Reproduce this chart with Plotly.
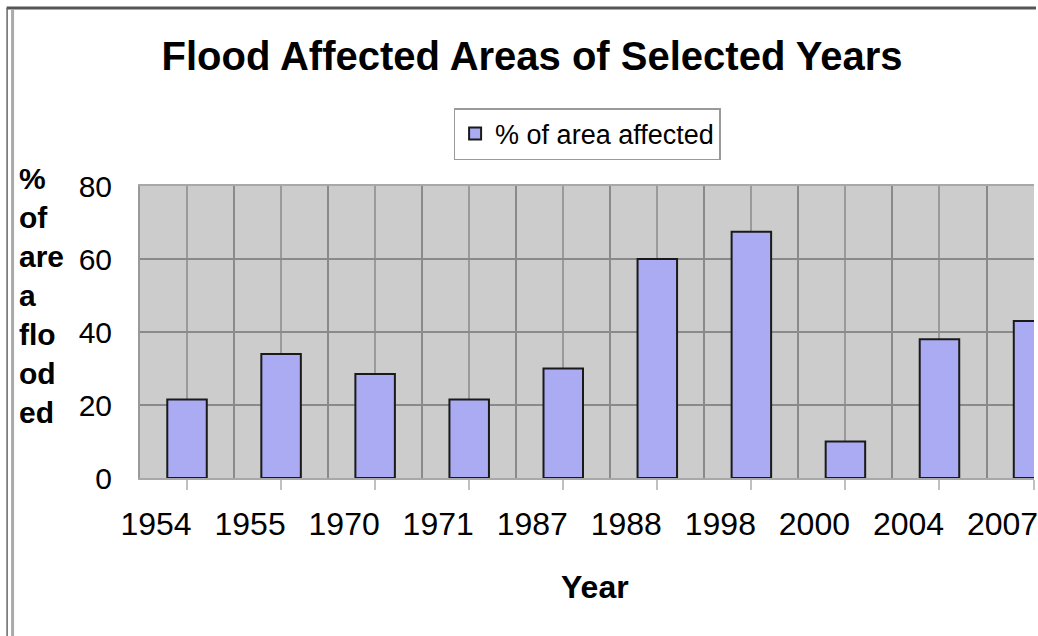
import plotly.graph_objects as go

years = ["1954", "1955", "1970", "1971", "1987", "1988", "1998", "2000", "2004", "2007"]
area_affected = [21.5, 34, 28.5, 21.5, 30, 60, 67.5, 10, 38, 43]
y_ticks = [0, 20, 40, 60, 80]
series_name = "% of area affected"

positions = list(range(len(years)))

FONT = "Arial, Liberation Sans, sans-serif"

fig = go.Figure()
fig.add_trace(go.Bar(
    x=positions,
    y=area_affected,
    name=series_name,
    width=0.42,
    marker=dict(color="#AAABF3", line=dict(color="#1a1a1a", width=2)),
    showlegend=True,
))

fig.update_layout(
    width=1038,
    height=636,
    margin=dict(l=140, r=0, t=186, b=158),
    paper_bgcolor="white",
    plot_bgcolor="#CCCCCC",
    font=dict(family=FONT, color="black"),
    title=dict(
        text="<b>Flood Affected Areas of Selected Years</b>",
        font=dict(size=40, family=FONT, color="black"),
        x=532 / 1038, xanchor="center", xref="container",
        y=1 - 56 / 636, yanchor="middle", yref="container",
    ),
    showlegend=True,
    legend=dict(
        x=(455 - 140) / 898, xanchor="left",
        y=(478 - 108) / 292, yanchor="top",
        bgcolor="white", bordercolor="#9a9a9a", borderwidth=1.5,
        font=dict(size=27, family=FONT, color="black"),
        itemsizing="constant",
    ),
)

fig.update_xaxes(
    range=[-0.5, 9.005],
    tickmode="array",
    tickvals=positions,
    ticktext=years,
    tickfont=dict(size=32, family=FONT, color="black"),
    ticks="outside", ticklen=10, tickcolor="#c0c0c0", tickwidth=1.5,
    ticklabelstandoff=7,
    ticklabelshift=-31,
    ticklabeloverflow="allow",
    showgrid=True, gridcolor="#9a9a9a", gridwidth=1.5,
    minor=dict(tickmode="linear", tick0=-0.5, dtick=1, showgrid=True,
               gridcolor="#8a8a8a", gridwidth=1.5, ticks=""),
    showline=True, linecolor="#a8a8a8", linewidth=2, mirror=True,
    zeroline=False,
    fixedrange=True,
)

fig.update_yaxes(
    range=[0, 80],
    tickmode="array",
    tickvals=y_ticks,
    tickfont=dict(size=30, family=FONT, color="black"),
    ticks="",
    ticklabelstandoff=20,
    showgrid=True, gridcolor="#8a8a8a", gridwidth=1.5,
    showline=True, linecolor="#999999", linewidth=2,
    zeroline=False,
    fixedrange=True,
)

# y-axis title (wrapped as in the original)
fig.add_annotation(
    text="<b>%<br>of<br>are<br>a<br>flo<br>od<br>ed</b>",
    xref="paper", yref="paper",
    x=(16 - 140) / 898, xanchor="left",
    y=(478 - 160) / 292, yanchor="top",
    align="left", showarrow=False,
    font=dict(size=30, family=FONT, color="black"),
)

# x-axis title
fig.add_annotation(
    text="<b>Year</b>",
    xref="paper", yref="paper",
    x=(597 - 140) / 898, xanchor="center",
    y=(478 - 587) / 292, yanchor="middle",
    showarrow=False,
    font=dict(size=32, family=FONT, color="black"),
)

# outer frame lines (top and left edges of the chart window)
fig.add_shape(type="line", xref="paper", yref="paper",
              x0=(6 - 140) / 898, x1=(1040 - 140) / 898,
              y0=(478 - 8) / 292, y1=(478 - 8) / 292,
              line=dict(color="#555555", width=3))
fig.add_shape(type="line", xref="paper", yref="paper",
              x0=(6.5 - 140) / 898, x1=(6.5 - 140) / 898,
              y0=(478 - 8) / 292, y1=(478 - 640) / 292,
              line=dict(color="#666666", width=1.5))
fig.add_shape(type="line", xref="paper", yref="paper",
              x0=(12 - 140) / 898, x1=(12 - 140) / 898,
              y0=(478 - 10) / 292, y1=(478 - 640) / 292,
              line=dict(color="#aaaaaa", width=3))

fig.write_html(
    "out.html",
    config={"displayModeBar": False},
    post_script="document.body.style.margin='0';document.body.style.overflow='hidden';",
)
